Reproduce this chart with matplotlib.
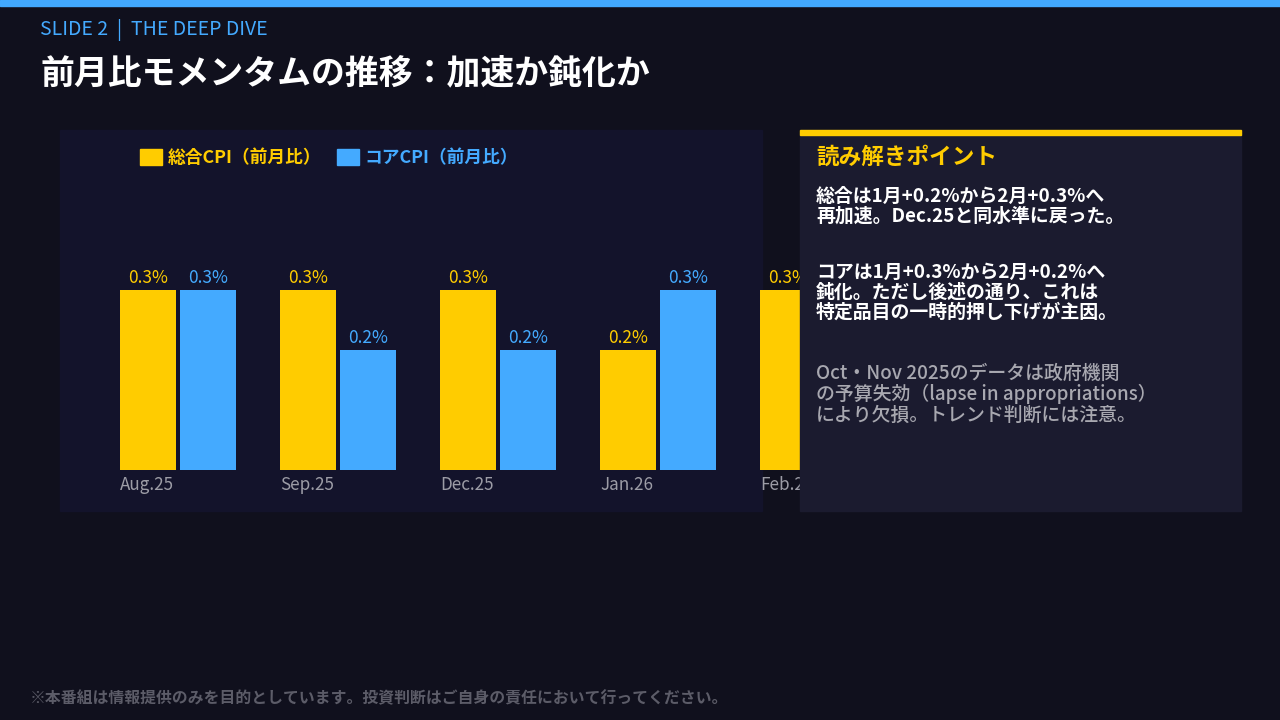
import matplotlib
matplotlib.use("Agg")
import matplotlib.pyplot as plt
from matplotlib.patches import Rectangle, Patch

plt.rcParams['font.family'] = ['Noto Sans CJK JP', 'DejaVu Sans']

# data
months = ['Aug.25', 'Sep.25', 'Dec.25', 'Jan.26', 'Feb.26']
headline = [0.3, 0.3, 0.3, 0.2, 0.3]
core = [0.3, 0.2, 0.2, 0.3, 0.2]
series_names = ['総合CPI（前月比）', 'コアCPI（前月比）']

kicker = 'SLIDE 2  |  THE DEEP DIVE'
title = '前月比モメンタムの推移：加速か鈍化か'
point_head = '読み解きポイント'
point_1 = '総合は1月+0.2%から2月+0.3%へ\n再加速。Dec.25と同水準に戻った。'
point_2 = 'コアは1月+0.3%から2月+0.2%へ\n鈍化。ただし後述の通り、これは\n特定品目の一時的押し下げが主因。'
note = 'Oct・Nov 2025のデータは政府機関\nの予算失効（lapse in appropriations）\nにより欠損。トレンド判断には注意。'
footer = '※本番組は情報提供のみを目的としています。投資判断はご自身の責任において行ってください。'

BG = '#10101d'
PANEL = '#13132b'
SIDE = '#1b1b2f'
YEL = '#ffcc00'
BLU = '#44aaff'
GRAY = '#9c9ca6'

W, H = 1280, 720
fig = plt.figure(figsize=(12.8, 7.2), dpi=100)
fig.patch.set_facecolor(BG)


def px_axes(z):
    a = fig.add_axes([0, 0, 1, 1], zorder=z)
    a.set_xlim(0, W)
    a.set_ylim(H, 0)
    a.axis('off')
    a.patch.set_alpha(0)
    return a


bg = px_axes(0)
bg.add_patch(Rectangle((0, 0), W, 6, color='#42a9ff'))
bg.add_patch(Rectangle((60, 130), 702, 381, color=PANEL))
bg.text(40, 30, kicker, color=BLU, fontsize=14, va='center')
bg.text(40, 73, title, color='white', fontsize=24.4, fontweight='bold', va='center')
bg.text(30, 698, footer, color='#5c5c68', fontsize=11.4, fontweight='bold', va='center')

# bar axes: group i centre at pixel 178 + 160 i, baseline at y=470, 0.1 = 60px
ax = fig.add_axes([60 / W, (H - 470) / H, 860 / W, 300 / H], zorder=1)
ax.patch.set_alpha(0)
ax.set_xlim(-0.7375, 4.6375)
ax.set_ylim(0, 0.5)
ax.axis('off')
x = range(len(months))
off = 30 / 160
bw = 56 / 160
b1 = ax.bar([i - off for i in x], headline, width=bw, color=YEL)
b2 = ax.bar([i + off for i in x], core, width=bw, color=BLU)
for bars, vals, c in ((b1, headline, YEL), (b2, core, BLU)):
    for r, v in zip(bars, vals):
        ax.annotate(f'{v:.1f}%', (r.get_x() + r.get_width() / 2, v), xytext=(0, 8.3),
                    textcoords='offset points', ha='center', va='center',
                    color=c, fontsize=12.5)
for i, m in zip(x, months):
    ax.annotate(m, (i - off - bw / 2, 0), xytext=(0, -10.8), textcoords='offset points',
                ha='left', va='center', color=GRAY, fontsize=12.3)

leg = ax.legend([Patch(color=YEL), Patch(color=BLU)], series_names,
                loc='center left', bbox_to_anchor=(140 / W, 1 - 158 / H),
                bbox_transform=fig.transFigure, ncol=2, frameon=False,
                handlelength=1.25, handleheight=0.95, handletextpad=0.3,
                columnspacing=0.9, borderpad=0, borderaxespad=0,
                labelcolor=[YEL, BLU], prop={'size': 12.8, 'weight': 'bold'})

# right side panel
top = px_axes(2)
top.add_patch(Rectangle((800, 130), 441, 381, color=SIDE))
top.add_patch(Rectangle((800, 130), 441, 5, color=YEL))
top.text(816, 157, point_head, color=YEL, fontsize=16.3, fontweight='bold', va='center')
top.text(816, 187, point_1, color='white', fontsize=13.6, fontweight='bold', va='top',
         linespacing=1.06)
top.text(816, 263, point_2, color='white', fontsize=13.6, fontweight='bold', va='top',
         linespacing=1.06)
top.text(816, 363, note, color='#a8a8b0', fontsize=13.6, fontweight='medium', va='top',
         linespacing=1.06)

fig.savefig('out.png', dpi=100, facecolor=BG)
